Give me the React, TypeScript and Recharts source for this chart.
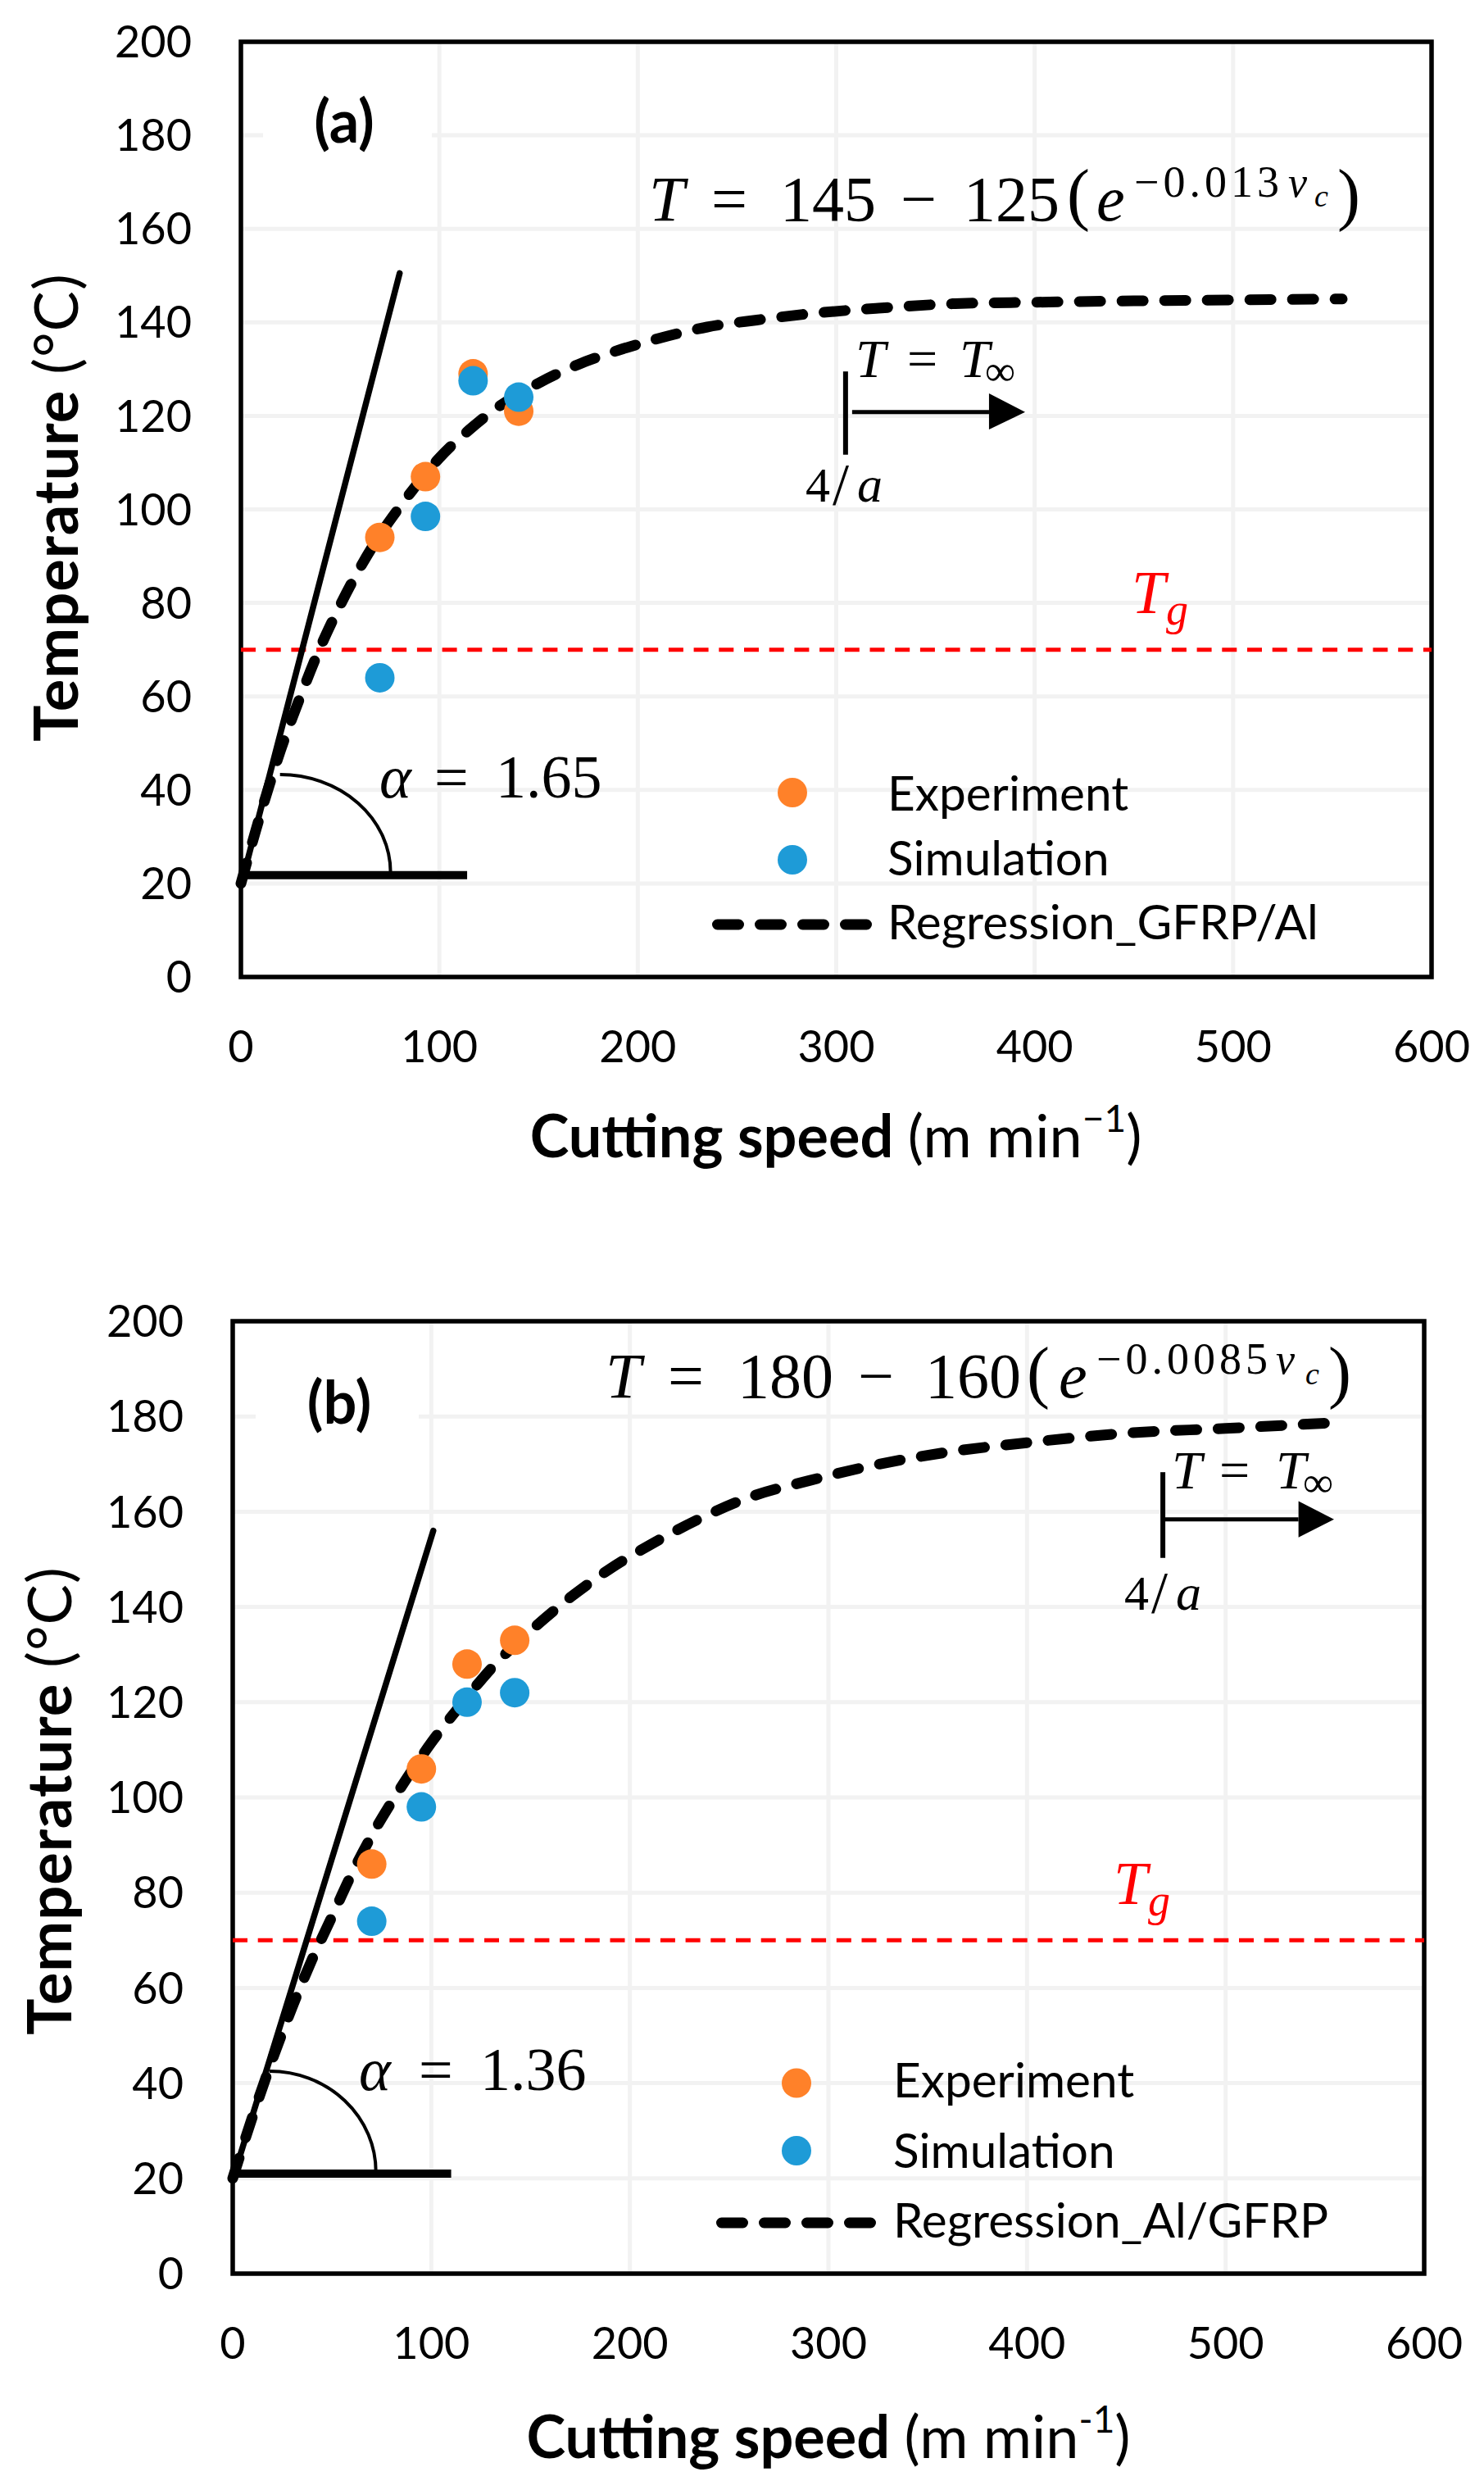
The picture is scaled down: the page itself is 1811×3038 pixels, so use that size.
import React from "react";
import {
  ComposedChart,
  Line,
  Scatter,
  XAxis,
  YAxis,
  CartesianGrid,
  ReferenceLine,
  Customized,
} from "recharts";

// axis ticks
const speedTicks = [0, 100, 200, 300, 400, 500, 600];
const tempTicks = [0, 20, 40, 60, 80, 100, 120, 140, 160, 180, 200];

// (a) GFRP/Al
const experimentA = [
  { v: 70, T: 94 },
  { v: 93, T: 107 },
  { v: 117, T: 129 },
  { v: 140, T: 121 },
];
const simulationA = [
  { v: 70, T: 64 },
  { v: 93, T: 98.5 },
  { v: 117, T: 127.5 },
  { v: 140, T: 124 },
];
const regressionA = [
  { v: 0, T: 20 }, { v: 10, T: 35 }, { v: 20, T: 48.5 }, { v: 30, T: 60 },
  { v: 40, T: 70.5 }, { v: 50, T: 79.5 }, { v: 60, T: 87.5 }, { v: 70, T: 94.5 },
  { v: 80, T: 100.5 }, { v: 90, T: 106 }, { v: 100, T: 111 }, { v: 115, T: 117 },
  { v: 130, T: 122 }, { v: 150, T: 127 }, { v: 170, T: 131 }, { v: 190, T: 134 },
  { v: 210, T: 136.5 }, { v: 235, T: 139 }, { v: 260, T: 140.5 }, { v: 290, T: 142 },
  { v: 320, T: 143 }, { v: 360, T: 144 }, { v: 400, T: 144.3 }, { v: 450, T: 144.6 },
  { v: 500, T: 144.8 }, { v: 555, T: 145 },
];

// (b) Al/GFRP
const experimentB = [
  { v: 70, T: 86 },
  { v: 95, T: 106 },
  { v: 118, T: 128 },
  { v: 142, T: 133 },
];
const simulationB = [
  { v: 70, T: 74 },
  { v: 95, T: 98 },
  { v: 118, T: 120 },
  { v: 142, T: 122 },
];
const regressionB = [
  { v: 0, T: 20 }, { v: 10, T: 33 }, { v: 20, T: 45 }, { v: 30, T: 56 },
  { v: 40, T: 66 }, { v: 50, T: 75 }, { v: 60, T: 84 }, { v: 70, T: 92 },
  { v: 80, T: 99 }, { v: 90, T: 105.5 }, { v: 100, T: 111.5 }, { v: 115, T: 119.5 },
  { v: 130, T: 127 }, { v: 150, T: 135 }, { v: 170, T: 142 }, { v: 190, T: 148 },
  { v: 210, T: 153 }, { v: 235, T: 158.5 }, { v: 260, T: 163 }, { v: 290, T: 166.5 },
  { v: 320, T: 169.5 }, { v: 360, T: 172.5 }, { v: 400, T: 174.5 }, { v: 450, T: 176.5 },
  { v: 500, T: 177.5 }, { v: 560, T: 178.8 },
];

const ORANGE = "#FF8129";
const BLUE = "#1E9BD7";
const RED = "#FF0000";
const SANS = "Lato, 'Open Sans', sans-serif";
const SERIF = "'Liberation Serif', 'DejaVu Serif', serif";

const W = 1811;

// span: [x, y, size, text, italic, letterSpacing?]
type Span = [number, number, number, string, number, number?];
type MathGroup = { color?: string; spans: Span[] };

const panelA = {
  top: 0,
  height: 1500,
  plot: { left: 294, top: 51, right: 1747, bottom: 1192 },
  label: "(a)",
  labelPos: [420, 174],
  labelBox: [321, 110, 206, 95],
  experiment: experimentA,
  simulation: simulationA,
  regression: regressionA,
  regName: "Regression_GFRP/Al",
  tangent: [{ x: 0, y: 19.5 }, { x: 80, y: 150.5 }],
  base: [{ x: 0, y: 21.8 }, { x: 114, y: 21.8 }],
  arc: { cx: 19.7, cy: 22.4, topT: 43.3, rightV: 75.4 },
  tick: [{ x: 304.7, y: 129.5 }, { x: 304.7, y: 111.7 }],
  shaft: [{ x: 308, y: 120.8 }, { x: 377, y: 120.8 }],
  head: { base: 377, tip: 395.2, hi: 124.8, lo: 117.1, mid: 120.8 },
  legend: { mx: 967, my: [967, 1049], dash: [869, 1064, 1128], tx: 1083, ty: [989, 1068, 1146] },
  xTitle: { x: 1020, y: 1412, sup: "\u22121" },
  yTitle: { x: 95, y: 619 },
  math: [
    {
      spans: [
        [792, 269, 78, "T", 1],
        [868, 269, 78, "=", 0],
        [952, 269, 78, "145", 0],
        [1099, 269, 78, "\u2212", 0],
        [1176, 269, 78, "125", 0],
        [1302, 265, 84, "(", 0],
        [1338, 269, 78, "e", 1],
        [1384, 240, 54, "\u22120.013", 0, 5],
        [1572, 240, 52, "v", 1],
        [1604, 252, 38, "c", 1],
        [1632, 265, 84, ")", 0],
      ],
    },
    {
      spans: [
        [463, 973, 74, "\u03b1", 1],
        [530, 973, 74, "=", 0],
        [605, 973, 74, "1.65", 0],
      ],
    },
    {
      spans: [
        [1044, 460, 66, "T", 1],
        [1107, 460, 66, "=", 0],
        [1171, 460, 66, "T", 1],
        [1202, 470, 52, "\u221e", 0],
      ],
    },
    {
      spans: [
        [983, 612, 60, "4", 0],
        [1016, 615, 72, "/", 0],
        [1046, 612, 62, "a", 1],
      ],
    },
    {
      color: RED,
      spans: [
        [1381, 748, 74, "T", 1],
        [1423, 762, 54, "g", 1],
      ],
    },
  ] as MathGroup[],
};

const panelB = {
  top: 1500,
  height: 1538,
  plot: { left: 284, top: 112, right: 1738, bottom: 1274 },
  label: "(b)",
  labelPos: [414, 237],
  labelBox: [312, 160, 199, 90],
  experiment: experimentB,
  simulation: simulationB,
  regression: regressionB,
  regName: "Regression_Al/GFRP",
  tangent: [{ x: 0, y: 19.8 }, { x: 101, y: 156 }],
  base: [{ x: 0, y: 21 }, { x: 110, y: 21 }],
  arc: { cx: 18.6, cy: 21.4, topT: 42.5, rightV: 72.1 },
  tick: [{ x: 468.4, y: 168.3 }, { x: 468.4, y: 150.3 }],
  shaft: [{ x: 468.4, y: 158.4 }, { x: 536.7, y: 158.4 }],
  head: { base: 536.7, tip: 554.6, hi: 162.2, lo: 154.6, mid: 158.4 },
  legend: { mx: 972, my: [1041.5, 1124], dash: [874, 1071, 1212], tx: 1090, ty: [1059, 1144.5, 1230] },
  xTitle: { x: 1011, y: 1499, sup: "-1" },
  yTitle: { x: 87, y: 697 },
  math: [
    {
      spans: [
        [739, 205, 78, "T", 1],
        [815, 205, 78, "=", 0],
        [900, 205, 78, "180", 0],
        [1047, 205, 78, "\u2212", 0],
        [1129, 205, 78, "160", 0],
        [1253, 202, 84, "(", 0],
        [1292, 205, 78, "e", 1],
        [1338, 176, 54, "\u22120.0085", 0, 5],
        [1557, 176, 52, "v", 1],
        [1593, 189, 38, "c", 1],
        [1621, 202, 84, ")", 0],
      ],
    },
    {
      spans: [
        [438, 1050, 74, "\u03b1", 1],
        [511, 1050, 74, "=", 0],
        [586, 1050, 74, "1.36", 0],
      ],
    },
    {
      spans: [
        [1430, 316, 66, "T", 1],
        [1488, 316, 66, "=", 0],
        [1557, 316, 66, "T", 1],
        [1590, 326, 52, "\u221e", 0],
      ],
    },
    {
      spans: [
        [1372, 464, 60, "4", 0],
        [1405, 467, 72, "/", 0],
        [1435, 464, 62, "a", 1],
      ],
    },
    {
      color: RED,
      spans: [
        [1359, 823, 74, "T", 1],
        [1401, 837, 54, "g", 1],
      ],
    },
  ] as MathGroup[],
};

type PanelCfg = typeof panelA;

function makeScales(p: PanelCfg) {
  const { left, top, right, bottom } = p.plot;
  const sx = (v: number) => left + (v / 600) * (right - left);
  const sy = (t: number) => bottom - (t / 200) * (bottom - top);
  return { sx, sy };
}

function Overlay({ p }: { p: PanelCfg }) {
  const { sx, sy } = makeScales(p);
  const { left, top, right, bottom } = p.plot;
  const a = p.arc;
  const acx = sx(a.cx);
  const acy = sy(a.cy);
  const rx = sx(a.rightV) - acx;
  const ry = acy - sy(a.topT);
  const h = p.head;
  const lg = p.legend;
  return (
    <g>
      {/* white box behind the panel label */}
      <rect x={p.labelBox[0]} y={p.labelBox[1]} width={p.labelBox[2]} height={p.labelBox[3]} fill="#fff" />
      <text x={p.labelPos[0]} y={p.labelPos[1]} textAnchor="middle" fontFamily={SANS} fontWeight={700} fontSize={72}>
        {p.label}
      </text>

      {/* plot frame */}
      <rect x={left} y={top} width={right - left} height={bottom - top} fill="none" stroke="#000" strokeWidth={5.5} />

      {/* angle arc */}
      <path
        d={`M ${acx} ${acy - ry} A ${rx} ${ry} 0 0 1 ${acx + rx} ${acy}`}
        fill="none"
        stroke="#000"
        strokeWidth={4}
      />

      {/* arrow head */}
      <polygon
        points={`${sx(h.base)},${sy(h.hi)} ${sx(h.tip)},${sy(h.mid)} ${sx(h.base)},${sy(h.lo)}`}
        fill="#000"
      />

      {/* math annotations */}
      {p.math.map((g, i) => (
        <text key={i} fontFamily={SERIF} fill={g.color || "#000"}>
          {g.spans.map((s, j) => (
            <tspan
              key={j}
              x={s[0]}
              y={s[1]}
              fontSize={s[2]}
              fontStyle={s[4] ? "italic" : "normal"}
              letterSpacing={s[5] || 0}
            >
              {s[3]}
            </tspan>
          ))}
        </text>
      ))}

      {/* legend */}
      <circle cx={lg.mx} cy={lg.my[0]} r={18} fill={ORANGE} />
      <circle cx={lg.mx} cy={lg.my[1]} r={18} fill={BLUE} />
      <line
        x1={lg.dash[0] + 6.5}
        x2={lg.dash[1] - 6.5}
        y1={lg.dash[2]}
        y2={lg.dash[2]}
        stroke="#000"
        strokeWidth={13}
        strokeDasharray="26 26"
        strokeLinecap="round"
      />
      <text x={lg.tx} y={lg.ty[0]} fontFamily={SANS} fontSize={58.5}>Experiment</text>
      <text x={lg.tx} y={lg.ty[1]} fontFamily={SANS} fontSize={58.5}>Simulation</text>
      <text x={lg.tx} y={lg.ty[2]} fontFamily={SANS} fontSize={58.5}>{p.regName}</text>

      {/* axis titles */}
      <text x={p.xTitle.x} y={p.xTitle.y} textAnchor="middle" fontFamily={SANS} fontSize={72}>
        <tspan fontWeight={700}>Cutting speed </tspan>
        <tspan>(m min</tspan>
        <tspan fontSize={46} dy={-31}>{p.xTitle.sup}</tspan>
        <tspan dy={31}>)</tspan>
      </text>
      <text
        x={p.yTitle.x}
        y={p.yTitle.y}
        textAnchor="middle"
        fontFamily={SANS}
        fontSize={74}
        letterSpacing={1}
        transform={`rotate(-90 ${p.yTitle.x} ${p.yTitle.y})`}
      >
        <tspan fontWeight={700}>Temperature </tspan>
        <tspan>(°C)</tspan>
      </text>
    </g>
  );
}

function Panel({ p }: { p: PanelCfg }) {
  const yAxisW = 100;
  const xAxisH = 150;
  const margin = {
    top: p.plot.top,
    right: W - p.plot.right,
    left: p.plot.left - yAxisW,
    bottom: p.height - p.plot.bottom - xAxisH,
  };
  const tickStyle = { fontSize: 54, fill: "#000", fontFamily: SANS };
  return (
    <div style={{ position: "absolute", left: 0, top: p.top }}>
      <ComposedChart width={W} height={p.height} margin={margin}>
        <CartesianGrid stroke="#F2F2F2" strokeWidth={5} />
        <XAxis
          type="number"
          dataKey="v"
          domain={[0, 600]}
          ticks={speedTicks}
          interval={0}
          height={xAxisH}
          tickSize={0}
          tickLine={false}
          axisLine={false}
          tickMargin={66}
          tick={tickStyle}
        />
        <YAxis
          type="number"
          dataKey="T"
          domain={[0, 200]}
          ticks={tempTicks}
          interval={0}
          width={yAxisW}
          tickSize={0}
          tickLine={false}
          axisLine={false}
          tickMargin={60}
          tick={tickStyle}
        />
        <ReferenceLine y={70} stroke={RED} strokeWidth={5} strokeDasharray="18 12.7" />
        <ReferenceLine segment={p.base} stroke="#000" strokeWidth={10} />
        <ReferenceLine segment={p.tangent} stroke="#000" strokeWidth={7.5} strokeLinecap="round" />
        <ReferenceLine segment={p.tick} stroke="#000" strokeWidth={6} />
        <ReferenceLine segment={p.shaft} stroke="#000" strokeWidth={5} />
        <Line
          data={p.regression}
          dataKey="T"
          name={p.regName}
          type="monotone"
          stroke="#000"
          strokeWidth={13}
          strokeDasharray="26 26"
          strokeLinecap="round"
          dot={false}
          activeDot={false}
          isAnimationActive={false}
        />
        <Scatter
          data={p.experiment}
          dataKey="T"
          name="Experiment"
          fill={ORANGE}
          isAnimationActive={false}
          shape={(s: any) => <circle cx={s.cx} cy={s.cy} r={18} fill={ORANGE} />}
        />
        <Scatter
          data={p.simulation}
          dataKey="T"
          name="Simulation"
          fill={BLUE}
          isAnimationActive={false}
          shape={(s: any) => <circle cx={s.cx} cy={s.cy} r={18} fill={BLUE} />}
        />
        <Customized component={<Overlay p={p} />} />
      </ComposedChart>
    </div>
  );
}

export default function App() {
  return (
    <div style={{ position: "absolute", left: 0, top: 0, width: W, height: 3038, background: "#fff" }}>
      <Panel p={panelA} />
      <Panel p={panelB as PanelCfg} />
    </div>
  );
}
